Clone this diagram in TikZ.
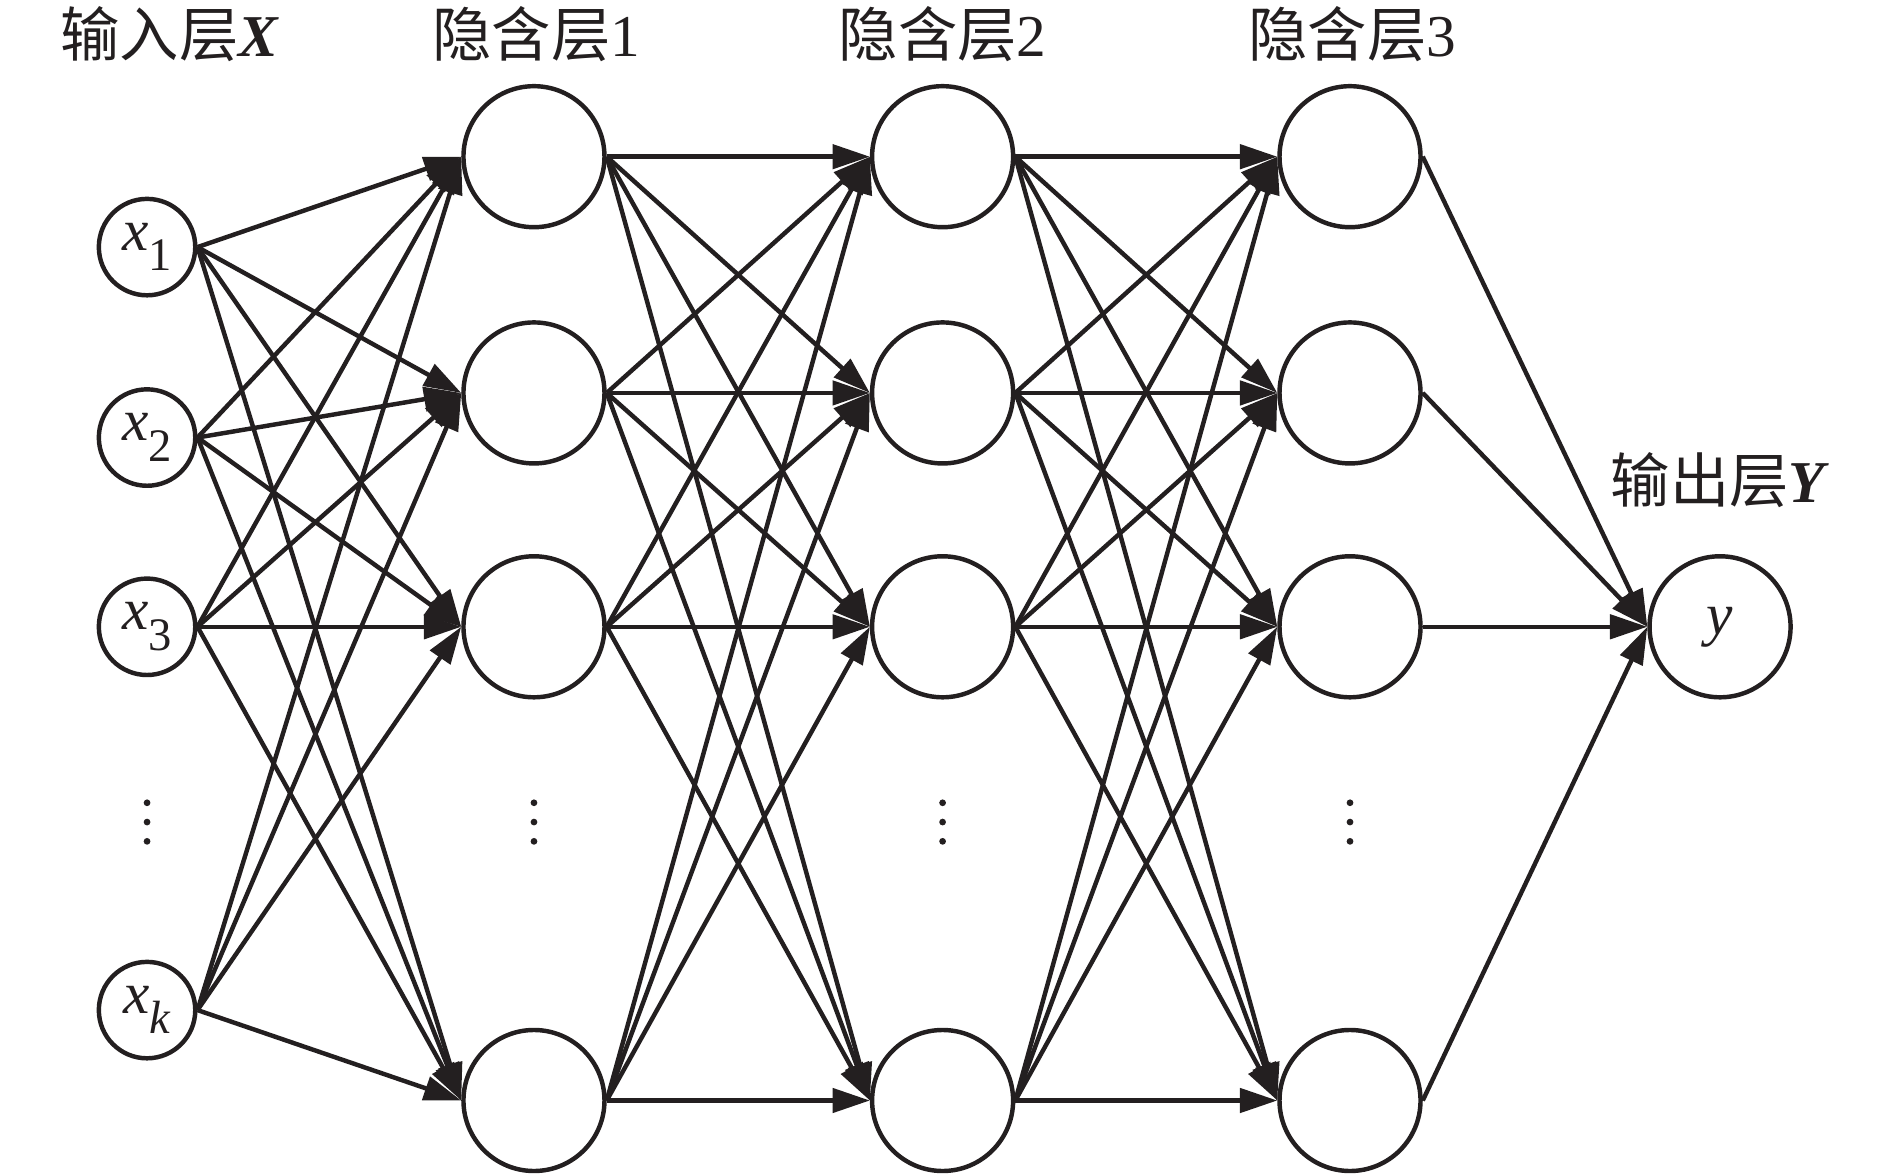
\documentclass[tikz,border=0pt]{standalone}
\usepackage{fontspec}
\setmainfont{Liberation Serif}
\newfontfamily\cjk{Noto Sans CJK SC}
\usepackage{tikz}
\usetikzlibrary{arrows.meta}
\definecolor{ink}{RGB}{35,31,32}
\newcommand\xsub[1]{\textit{x}\raisebox{-0.75ex}{\fontsize{11}{12}\selectfont #1}}
\tikzset{
  innode/.style={circle,draw=ink,line width=1.05pt,minimum size=0.8cm,inner sep=0pt,text=ink,font=\fontsize{14}{16}\selectfont},
  hidnode/.style={circle,draw=ink,line width=1.05pt,minimum size=1.17cm,inner sep=0pt,text=ink,font=\fontsize{14}{16}\selectfont},
  link/.style={ink,line width=1.05pt,-{Triangle[length=3.1mm,width=2mm]}},
  layertext/.style={text=ink,font=\fontsize{14}{16}\selectfont}
}

\begin{document}
\begin{tikzpicture}
\useasboundingbox (0cm,0cm) rectangle (15.68cm,9.75cm);
\node[innode] (x1) at (1.22cm,7.70cm) {\xsub{1}};
\node[innode] (x2) at (1.22cm,6.12cm) {\xsub{2}};
\node[innode] (x3) at (1.22cm,4.55cm) {\xsub{3}};
\node[innode] (xk) at (1.22cm,1.37cm) {\xsub{\textit{k}}};
\foreach \n/\x in {1/4.43,2/7.82,3/11.20}{
  \node[hidnode] (h\n1) at (\x cm,8.45cm) {};
  \node[hidnode] (h\n2) at (\x cm,6.49cm) {};
  \node[hidnode] (h\n3) at (\x cm,4.55cm) {};
  \node[hidnode] (h\n4) at (\x cm,0.62cm) {};
}
\node[hidnode] (y) at (14.27cm,4.55cm) {\textit{y}};
\foreach \x in {1.22,4.43,7.82,11.20}
  \foreach \d in {-0.16,0,0.16}
    \fill[ink] (\x cm,2.93cm+\d cm) circle (0.028cm);
\node[layertext] (lx) at (1.41cm,9.47cm) {{\cjk 输入层}\textbf{\textit{X}}};
\node[layertext] (l1) at (4.45cm,9.47cm) {{\cjk 隐含层}1};
\node[layertext] (l2) at (7.82cm,9.47cm) {{\cjk 隐含层}2};
\node[layertext] (l3) at (11.22cm,9.47cm) {{\cjk 隐含层}3};
\node[layertext] (ly) at (14.27cm,5.77cm) {{\cjk 输出层}\textbf{\textit{Y}}};
\foreach \i in {1,2,3,k}
  \foreach \j in {1,...,4}
    \draw[link] (x\i.east) -- (h1\j.west);
\foreach \i in {1,...,4}
  \foreach \j in {1,...,4}{
    \draw[link] (h1\i.east) -- (h2\j.west);
    \draw[link] (h2\i.east) -- (h3\j.west);
  }
\foreach \i in {1,...,4}
  \draw[link] (h3\i.east) -- (y.west);
\end{tikzpicture}
\end{document}
